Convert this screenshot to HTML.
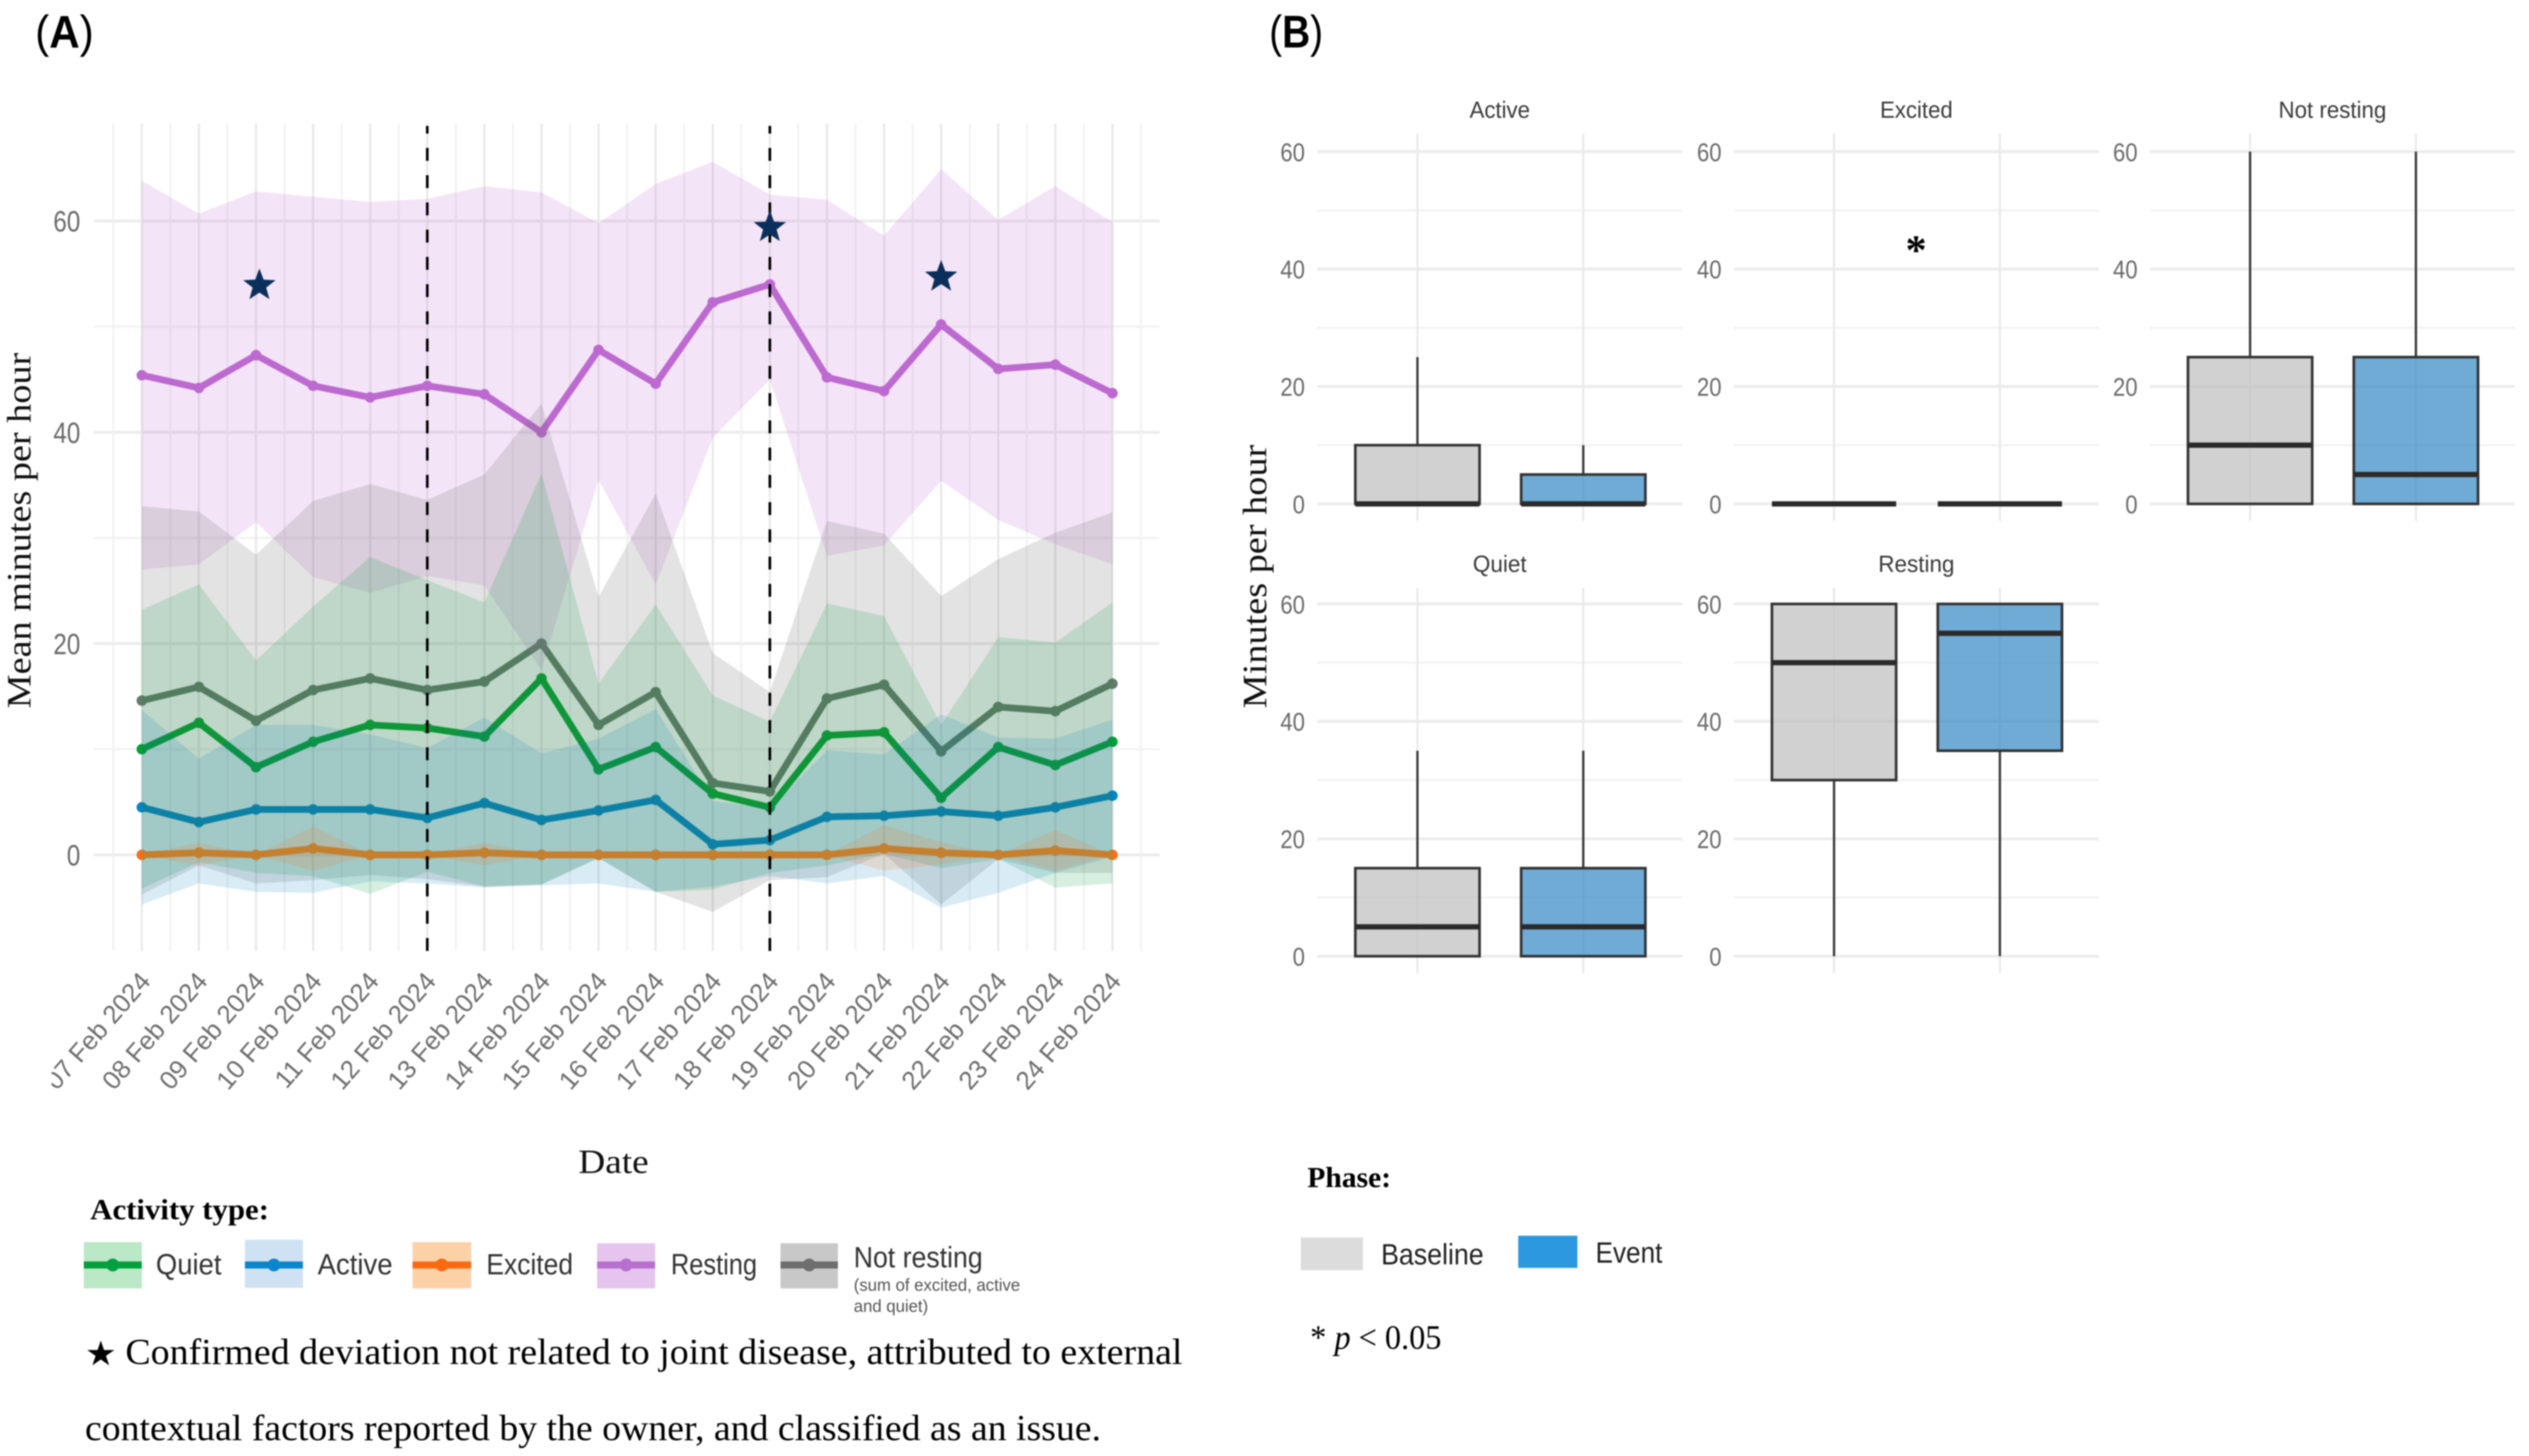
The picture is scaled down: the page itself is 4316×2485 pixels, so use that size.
<!DOCTYPE html>
<html lang="en">
<head>
<meta charset="utf-8">
<title>Activity time series and box plots</title>
<style>
html,body{margin:0;padding:0;background:#fff;}
body{width:4316px;height:2485px;overflow:hidden;}
svg{display:block;filter:blur(1.1px);}
.sans{font-family:"Liberation Sans",sans-serif;}
.serif{font-family:"Liberation Serif",serif;}
</style>
</head>
<body>
<svg id="fig" xmlns="http://www.w3.org/2000/svg" width="4316" height="2485" viewBox="0 0 4316 2485">
  <rect width="4316" height="2485" fill="#fff"/>
  <defs>
    <clipPath id="labelClip"><rect x="88" y="1600" width="1900" height="320"/></clipPath>
    <clipPath id="ribbonClip"><rect x="242" y="200" width="1656.5" height="1430"/></clipPath>
  </defs>
  <g id="panelA"></g>
  <g id="panelB"></g>

  <text class="sans" x="60" y="81" font-size="78" textLength="100" lengthAdjust="spacingAndGlyphs">(<tspan font-weight="bold">A</tspan>)</text>
  <text class="sans" x="2166" y="81" font-size="78" textLength="92" lengthAdjust="spacingAndGlyphs">(<tspan font-weight="bold">B</tspan>)</text>

  <text class="serif" transform="translate(52,1209) rotate(-90)" font-size="58" fill="#111" textLength="607" lengthAdjust="spacingAndGlyphs">Mean minutes per hour</text>
  <text class="serif" x="987" y="2002" font-size="58" fill="#111" textLength="120" lengthAdjust="spacingAndGlyphs">Date</text>

  <text class="serif" x="154" y="2081" font-size="50" font-weight="bold" fill="#000" textLength="305" lengthAdjust="spacingAndGlyphs">Activity type:</text>
  <g id="legendA"></g>
  <text class="sans" x="1457" y="2203" font-size="30" fill="#555" textLength="284" lengthAdjust="spacingAndGlyphs">(sum of excited, active</text>
  <text class="sans" x="1457" y="2239" font-size="30" fill="#555" textLength="127" lengthAdjust="spacingAndGlyphs">and quiet)</text>

  <text x="145" y="2330" font-size="58" fill="#000" font-family="'DejaVu Sans',sans-serif" textLength="54" lengthAdjust="spacingAndGlyphs">★</text>
  <text class="serif" x="214" y="2328" font-size="62" fill="#000" textLength="1804" lengthAdjust="spacingAndGlyphs">Confirmed deviation not related to joint disease, attributed to external</text>
  <text class="serif" x="145" y="2458" font-size="62" fill="#000" textLength="1734" lengthAdjust="spacingAndGlyphs">contextual factors reported by the owner, and classified as an issue.</text>

  <text class="serif" transform="translate(2161,1209) rotate(-90)" font-size="58" fill="#111" textLength="450" lengthAdjust="spacingAndGlyphs">Minutes per hour</text>
  <text class="serif" x="3270" y="451" font-size="72" font-weight="bold" text-anchor="middle" fill="#000">*</text>

  <text class="serif" x="2231" y="2026" font-size="50" font-weight="bold" fill="#000" textLength="143" lengthAdjust="spacingAndGlyphs">Phase:</text>
  <rect x="2220" y="2112" width="106" height="56" fill="#dcdcdc"/>
  <text class="sans" x="2357" y="2158" font-size="50" fill="#222" textLength="175" lengthAdjust="spacingAndGlyphs">Baseline</text>
  <rect x="2591" y="2109" width="101" height="55" fill="#2c98e0"/>
  <text class="sans" x="2723" y="2155" font-size="50" fill="#222" textLength="114" lengthAdjust="spacingAndGlyphs">Event</text>
  <text class="serif" x="2236" y="2302" font-size="58" fill="#000" textLength="224" lengthAdjust="spacingAndGlyphs">* <tspan font-style="italic">p</tspan> &lt; 0.05</text>
</svg>
<script>
/* ---------- Panel A data ---------- */
const dates = ['07 Feb 2024','08 Feb 2024','09 Feb 2024','10 Feb 2024','11 Feb 2024','12 Feb 2024','13 Feb 2024','14 Feb 2024','15 Feb 2024','16 Feb 2024','17 Feb 2024','18 Feb 2024','19 Feb 2024','20 Feb 2024','21 Feb 2024','22 Feb 2024','23 Feb 2024','24 Feb 2024'];
const yTicksA = [0,20,40,60];
const yMinorA = [10,30,50];
const restingMean = [45.4,44.2,47.3,44.4,43.3,44.4,43.6,40,47.8,44.6,52.3,54,45.2,43.9,50.2,46,46.4,43.7];
const restingUpper = [63.8,60.7,62.8,62.3,61.8,62.1,63.3,62.7,59.8,63.5,65.6,62.5,62,58.6,64.9,60.1,63.3,59.9];
const restingLower = [27,27.5,31.5,26.3,24.8,26.4,25.5,17.5,35.5,25.6,39.5,45,28.3,29.3,35.4,31.7,29.4,27.5];
const notRestingMean = [14.6,15.9,12.7,15.6,16.7,15.6,16.4,20,12.3,15.4,6.8,6,14.8,16.1,9.8,14,13.6,16.2];
const notRestingUpper = [33,32.5,28.4,33.5,35.1,33.6,36,42.7,24.4,34.2,19.1,15.4,31.6,30.4,24.5,28,30.5,32.4];
const notRestingLower = [-3.75,-1,-2.7,-2.4,-1.9,-2.3,-3,-2.8,-0.3,-3.5,-5.4,-2.4,-2.1,0.1,-4.7,-0.4,-1.7,-1.7];
const quietMean = [10,12.5,8.3,10.7,12.3,12,11.2,16.7,8.1,10.2,5.8,4.5,11.3,11.6,5.4,10.2,8.5,10.7];
const quietUpper = [23.2,25.6,18.4,23.5,28.2,26,23.9,36.1,16.2,23.7,15.1,12.6,23.8,22.6,12.3,20.6,20.1,23.9];
const quietLower = [-3.2,-0.7,-1.7,-2,-3.7,-1.6,-3,-2.8,-0.3,-3.5,-3.3,-1.7,-1,0.1,-1.25,-0.4,-3.1,-2.7];
const activeMean = [4.5,3.1,4.3,4.3,4.3,3.5,4.9,3.3,4.2,5.2,1,1.4,3.6,3.7,4.1,3.7,4.5,5.6];
const activeUpper = [13.7,9.1,12.3,12.3,11.4,10.1,13,9.6,11,13.8,5.1,4.4,9.9,9.5,13.3,11.1,11,12.8];
const activeLower = [-4.7,-2.7,-3.5,-3.6,-2.5,-2.7,-3.1,-2.9,-2.7,-3.5,-3,-2,-2.7,-2,-5,-3.6,-1.7,-0.2];
const excitedMean = [0,0.2,0,0.6,0,0,0.2,0,0,0,0,0,0,0.6,0.2,0,0.4,0];
const excitedUpper = [0,1.15,0,2.7,0,0,1.15,0,0,0,0,0,0,2.8,1.2,0,2.35,0];
const excitedLower = [0,-1,0,-1.5,0,0,-1,0,0,0,0,0,0,-1.5,-0.9,0,-1.5,0];
const eventDateIndex = [5,11];
const starDateIndex = [2.06,11,14];
const starValues = [53.9,59.4,54.7];

/* ---------- Panel B data ---------- */
const facetNames = ['Active','Excited','Not resting','Quiet','Resting'];
const yTicksB = [0,20,40,60];
const yMinorB = [10,30,50];
const baseWhiskerLow = [0,0,0,0,0];
const baseQ1 = [0,0,0,0,30];
const baseMedian = [0,0,10,5,50];
const baseQ3 = [10,0,25,15,60];
const baseWhiskerHigh = [25,0,60,35,60];
const eventWhiskerLow = [0,0,0,0,0];
const eventQ1 = [0,0,0,0,35];
const eventMedian = [0,0,5,5,55];
const eventQ3 = [5,0,25,15,60];
const eventWhiskerHigh = [10,0,60,35,60];

/* ---------- Legend data ---------- */
const legendNames = ['Quiet','Active','Excited','Resting','Not resting'];

/* ---------- helpers ---------- */
const NS = 'http://www.w3.org/2000/svg';
function mk(parent, tag, attrs, txt){
  const el = document.createElementNS(NS, tag);
  for (const k in attrs) el.setAttribute(k, attrs[k]);
  if (txt !== undefined) el.textContent = txt;
  parent.appendChild(el);
  return el;
}
const xA = i => 242 + i * 97.44;
const yA = v => 1459 - v * 18.03;
const A = document.getElementById('panelA');
const B = document.getElementById('panelB');
const SANS = '"Liberation Sans",sans-serif';
let el;

/* ---------- Panel A grid ---------- */
for (const v of yMinorA) {
  el = mk(A, 'line', {x1:160, x2:1979, y1:yA(v), y2:yA(v), stroke:'#f3f3f3', 'stroke-width':4});
  
  
}
for (const v of yTicksA) {
  el = mk(A, 'line', {x1:160, x2:1979, y1:yA(v), y2:yA(v), stroke:'#ececec', 'stroke-width':5});
  
  
}
for (let i = -0.5; i <= dates.length - 0.5 + 0.01; i += 1) {
  el = mk(A, 'line', {x1:xA(i), x2:xA(i), y1:211, y2:1623, stroke:'#f1f1f1', 'stroke-width':3});
  
  
}
dates.forEach((d, i) => {
  el = mk(A, 'line', {x1:xA(i), x2:xA(i), y1:211, y2:1623, stroke:'#e8e8e8', 'stroke-width':3.5});
  
  
});

/* ---------- Panel A tick labels ---------- */
for (const v of yTicksA) {
  const label = String(v);
  el = mk(A, 'text', {x:137, y:yA(v) + 18, 'text-anchor':'end', 'font-size':50, fill:'#6a6a6a', 'font-family':SANS, textLength:label.length * 23, lengthAdjust:'spacingAndGlyphs'}, label);
  
  
}
const xLabelGroup = mk(A, 'g', {'clip-path':'url(#labelClip)'});


dates.forEach((d, i) => {
  const lx = xA(i) + 17, ly = 1676;
  el = mk(xLabelGroup, 'text', {x:lx, y:ly, 'text-anchor':'end', 'font-size':44, fill:'#6e6e6e', 'font-family':SANS, transform:`rotate(-49 ${lx} ${ly})`}, d);
  
  
});

/* ---------- Panel A series ---------- */
function linePath(vals){ return vals.map((v,i)=>(i?'L':'M')+xA(i).toFixed(1)+' '+yA(v).toFixed(1)).join(' '); }
function ribbonPath(up, lo){
  let s = up.map((v,i)=>(i?'L':'M')+xA(i).toFixed(1)+' '+yA(v).toFixed(1)).join(' ');
  for (let i = lo.length - 1; i >= 0; i--) s += ' L'+xA(i).toFixed(1)+' '+yA(lo[i]).toFixed(1);
  return s + ' Z';
}
function drawLine(parent, vals, color, name, width){
  const g = mk(parent, 'g', {});
  
  
  const p = mk(g, 'path', {d:linePath(vals), fill:'none', stroke:color, 'stroke-width':width, 'stroke-linejoin':'round'});
  
  
  vals.forEach((v,i)=>{
    const c = mk(g, 'circle', {cx:xA(i), cy:yA(v), r:9, fill:color});
    
    
  });
  return g;
}
drawLine(A, restingMean, '#bb68cf', 'line-resting', 11.5);
drawLine(A, notRestingMean, '#657a68', 'line-not-resting', 11.5);
drawLine(A, quietMean, '#00a22e', 'line-quiet', 11.5);
drawLine(A, activeMean, '#0086c8', 'line-active', 11.5);
drawLine(A, excitedMean, '#fb6f16', 'line-excited', 11.5);

function drawRibbon(up, lo, fill, name){
  const r = mk(A, 'path', {d:ribbonPath(up, lo), fill:fill});
  
  
}
drawRibbon(restingUpper, restingLower, 'rgba(195,110,210,0.19)', 'ribbon-resting');
drawRibbon(notRestingUpper, notRestingLower, 'rgba(102,102,102,0.18)', 'ribbon-not-resting');
drawRibbon(quietUpper, quietLower, 'rgba(0,158,60,0.16)', 'ribbon-quiet');
drawRibbon(activeUpper, activeLower, 'rgba(0,120,190,0.15)', 'ribbon-active');
drawRibbon(excitedUpper, excitedLower, 'rgba(255,110,20,0.15)', 'ribbon-excited');

/* excited line as it appears through the overlapping ribbons */
const tintedExcited = mk(A, 'g', {'clip-path':'url(#ribbonClip)'});


drawLine(tintedExcited, excitedMean, '#c5802f', 'line-excited-overlay', 11.5);

/* ---------- event markers and stars ---------- */
eventDateIndex.forEach(i => {
  el = mk(A, 'line', {x1:xA(i), x2:xA(i), y1:1623, y2:215, stroke:'#000', 'stroke-width':4.5, 'stroke-dasharray':'22 24.5'});
  
  
});
function starPoints(cx, cy, R){
  const pts = [];
  for (let k = 0; k < 10; k++) {
    const r = k % 2 ? R * 0.42 : R;
    const a = -Math.PI / 2 + k * Math.PI / 5;
    pts.push((cx + r * Math.cos(a)).toFixed(1) + ',' + (cy + r * Math.sin(a)).toFixed(1));
  }
  return pts.join(' ');
}
starDateIndex.forEach((i, k) => {
  el = mk(A, 'polygon', {points:starPoints(xA(i), yA(starValues[k]), 29), fill:'#0b2f5b'});
  
  
});

/* ---------- Panel A legend (swatch geometry in markup order) ---------- */
const LG = document.getElementById('legendA');
function legendEntry(name, sx, sy, sw, sh, swatch, color, tx, tw, ty){
  const g = mk(LG, 'g', {});
  
  
  const r = mk(g, 'rect', {x:sx, y:sy, width:sw, height:sh, fill:swatch});
  
  
  const l = mk(g, 'line', {x1:sx, x2:sx + sw, y1:2159, y2:2159, stroke:color, 'stroke-width':12});
  
  
  const c = mk(g, 'circle', {cx:sx + sw / 2, cy:2159, r:11, fill:color});
  
  
  const t = mk(g, 'text', {x:tx, y:ty, 'font-size':50, fill:'#333', 'font-family':SANS, textLength:tw, lengthAdjust:'spacingAndGlyphs'}, name);
  
  
}
legendEntry(legendNames[0], 143, 2120, 99, 79, '#bbe8c6', '#00a03e', 266, 112, 2175);
legendEntry(legendNames[1], 418, 2116, 99, 82, '#cfe2f3', '#0a86cc', 542, 128, 2175);
legendEntry(legendNames[2], 704, 2120, 100, 79, '#fdd1a8', '#f96a10', 830, 148, 2175);
legendEntry(legendNames[3], 1019, 2122, 99, 77, '#e5c4ee', '#b870cf', 1145, 147, 2175);
legendEntry(legendNames[4], 1332, 2122, 98, 77, '#c8c8c8', '#6e6e6e', 1457, 220, 2163);

/* ---------- Panel B facets ---------- */
const facetLeft = [2248, 2959, 3669, 2248, 2959];
const facetWidth = 623;
const facetZero = [860, 860, 860, 1632, 1632];
const facetTop = [228, 228, 228, 1003, 1003];
const facetBottom = [889, 889, 889, 1661, 1661];
const yB = (f, v) => facetZero[f] - v * 10.02;
const catX = (f, c) => facetLeft[f] + 171 + c * 283;
const titleWidths = [103, 124, 184, 92, 130];

facetNames.forEach((name, f) => {
  const g = mk(B, 'g', {});
  
  
  const center = facetLeft[f] + facetWidth / 2;
  el = mk(g, 'text', {x:center, y:facetTop[f] - 27, 'text-anchor':'middle', 'font-size':40, fill:'#3a3a3a', 'font-family':SANS, textLength:titleWidths[f], lengthAdjust:'spacingAndGlyphs'}, name);
  
  
  for (const v of yMinorB) {
    el = mk(g, 'line', {x1:facetLeft[f], x2:facetLeft[f] + facetWidth, y1:yB(f, v), y2:yB(f, v), stroke:'#f2f2f2', 'stroke-width':3.5});
    
    
  }
  for (const v of yTicksB) {
    const label = String(v);
    el = mk(g, 'line', {x1:facetLeft[f], x2:facetLeft[f] + facetWidth, y1:yB(f, v), y2:yB(f, v), stroke:'#ececec', 'stroke-width':5});
    
    
    el = mk(g, 'text', {x:facetLeft[f] - 21, y:yB(f, v) + 16, 'text-anchor':'end', 'font-size':44, fill:'#6a6a6a', 'font-family':SANS, textLength:label.length * 21, lengthAdjust:'spacingAndGlyphs'}, label);
    
    
  }
  [0, 1].forEach(c => {
    el = mk(g, 'line', {x1:catX(f, c), x2:catX(f, c), y1:facetTop[f], y2:facetBottom[f], stroke:'#e9e9e9', 'stroke-width':3.5});
    
    
  });
  const stats = [
    {lo:baseWhiskerLow[f], q1:baseQ1[f], m:baseMedian[f], q3:baseQ3[f], hi:baseWhiskerHigh[f], fill:'rgba(190,190,190,0.7)', n:'baseline'},
    {lo:eventWhiskerLow[f], q1:eventQ1[f], m:eventMedian[f], q3:eventQ3[f], hi:eventWhiskerHigh[f], fill:'rgba(50,135,195,0.7)', n:'event'}
  ];
  stats.forEach((s, c) => {
    const cx = catX(f, c);
    const hw = 106;
    el = mk(g, 'line', {x1:cx, x2:cx, y1:yB(f, s.hi), y2:yB(f, s.q3), stroke:'#3c3c3c', 'stroke-width':4});
    
    
    el = mk(g, 'line', {x1:cx, x2:cx, y1:yB(f, s.q1), y2:yB(f, s.lo), stroke:'#3c3c3c', 'stroke-width':4});
    
    
    el = mk(g, 'rect', {x:cx - hw, y:yB(f, s.q3), width:hw * 2, height:yB(f, s.q1) - yB(f, s.q3), fill:s.fill, stroke:'#333', 'stroke-width':4.5});
    
    
    el = mk(g, 'line', {x1:cx - hw, x2:cx + hw, y1:yB(f, s.m), y2:yB(f, s.m), stroke:'#2b2b2b', 'stroke-width':9});
    
    
  });
});
</script>
</body>
</html>
